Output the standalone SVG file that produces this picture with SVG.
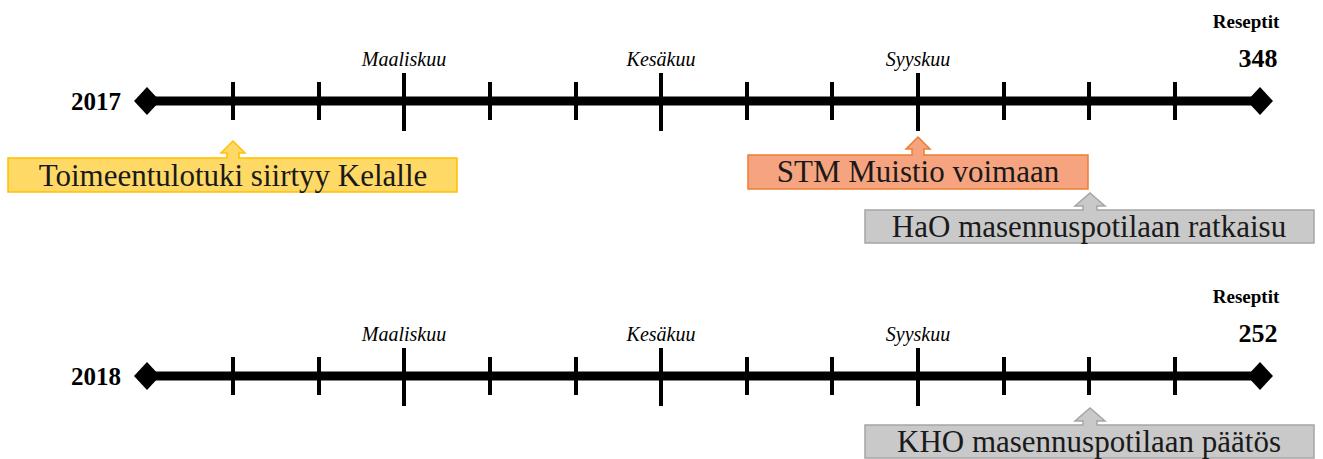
<svg xmlns="http://www.w3.org/2000/svg" width="1323" height="459" viewBox="0 0 1323 459">
  <defs>
    <style>
      .axis { stroke: #000; stroke-width: 9; }
      .tick { stroke: #000; stroke-width: 4; }
      .cap { fill: #000; }
      .year { font-family: "Liberation Serif", "Times New Roman", serif; font-weight: bold; font-size: 25px; text-anchor: end; }
      .month { font-family: "Liberation Serif", "Times New Roman", serif; font-style: italic; font-size: 20px; text-anchor: middle; }
      .rx { font-family: "Liberation Serif", "Times New Roman", serif; font-weight: bold; font-size: 19px; text-anchor: middle; }
      .num { font-family: "Liberation Serif", "Times New Roman", serif; font-weight: bold; font-size: 26px; text-anchor: middle; }
      .label { font-family: "Liberation Serif", "Times New Roman", serif; font-size: 31px; text-anchor: middle; fill: #1a1a1a; }
      .yellow { fill: #FFD966; stroke: #FFC000; stroke-width: 1.5; }
      .orange { fill: #F6A47F; stroke: #ED7D31; stroke-width: 1.5; }
      .grey { fill: #C9C9C9; stroke: #A5A5A5; stroke-width: 1.5; }
    </style>
    <g id="scale">
      <line class="axis" x1="147" y1="0" x2="1260" y2="0"/>
      <polygon class="cap" points="134,0 147,-14 160,0 147,14"/>
      <polygon class="cap" points="1247,0 1260,-14 1273,0 1260,14"/>
      <line class="tick" x1="233" y1="-19" x2="233" y2="19"/>
      <line class="tick" x1="319" y1="-19" x2="319" y2="19"/>
      <line class="tick" x1="404" y1="-28" x2="404" y2="30"/>
      <line class="tick" x1="490" y1="-19" x2="490" y2="19"/>
      <line class="tick" x1="576" y1="-19" x2="576" y2="19"/>
      <line class="tick" x1="661" y1="-28" x2="661" y2="30"/>
      <line class="tick" x1="747" y1="-19" x2="747" y2="19"/>
      <line class="tick" x1="832" y1="-19" x2="832" y2="19"/>
      <line class="tick" x1="918" y1="-28" x2="918" y2="30"/>
      <line class="tick" x1="1004" y1="-19" x2="1004" y2="19"/>
      <line class="tick" x1="1089" y1="-19" x2="1089" y2="19"/>
      <line class="tick" x1="1175" y1="-19" x2="1175" y2="19"/>
      <text class="month" x="404" y="-35">Maaliskuu</text>
      <text class="month" x="661" y="-35">Kesäkuu</text>
      <text class="month" x="918" y="-35">Syyskuu</text>
    </g>
  </defs>

  <!-- 2017 timeline -->
  <g id="timeline-2017">
    <use href="#scale" transform="translate(0,101)"/>
    <text class="year" x="121" y="110">2017</text>
    <text class="rx" x="1246" y="28">Reseptit</text>
    <text class="num" x="1258" y="67">348</text>
  </g>

  <!-- 2018 timeline -->
  <g id="timeline-2018">
    <use href="#scale" transform="translate(0,376)"/>
    <text class="year" x="121" y="385">2018</text>
    <text class="rx" x="1246" y="303">Reseptit</text>
    <text class="num" x="1258" y="342">252</text>
  </g>

  <!-- event callouts -->
  <g id="event-toimeentulotuki">
    <path class="yellow" d="M8,158 H227 V153 H221 L233,141 L245,153 H239 V158 H457 V192 H8 Z"/>
    <text class="label" x="233" y="186">Toimeentulotuki siirtyy Kelalle</text>
  </g>

  <g id="event-stm">
    <path class="orange" d="M748,155 H912 V149 H906 L918,137 L930,149 H924 V155 H1088 V189 H748 Z"/>
    <text class="label" x="918" y="182">STM Muistio voimaan</text>
  </g>

  <g id="event-hao">
    <path class="grey" d="M865,210 H1083 V206 H1075 L1090,193 L1105,206 H1097 V210 H1314 V243 H865 Z"/>
    <text class="label" x="1089" y="237">HaO masennuspotilaan ratkaisu</text>
  </g>

  <g id="event-kho">
    <path class="grey" d="M865,425 H1083 V421 H1075 L1090,408 L1105,421 H1097 V425 H1314 V458 H865 Z"/>
    <text class="label" x="1089" y="452">KHO masennuspotilaan päätös</text>
  </g>
</svg>
